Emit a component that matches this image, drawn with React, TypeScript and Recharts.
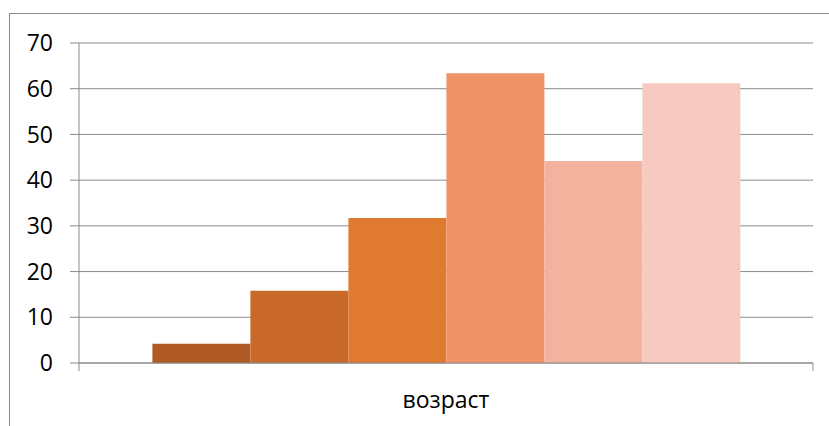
import { Bar, BarChart, CartesianGrid, XAxis, YAxis } from 'recharts'

const categories = ['возраст']
const seriesKeys = ['g1', 'g2', 'g3', 'g4', 'g5', 'g6']
const seriesValues = [4.2, 15.8, 31.7, 63.4, 44.2, 61.2]
const seriesColors = ['#AE5A22', '#C8692A', '#E07A31', '#F09368', '#F2B29D', '#F6CAC0']
const yTicks = [0, 10, 20, 30, 40, 50, 60, 70]

const GRID = '#8A8A8A'
const FONT = '"Open Sans", "Liberation Sans", sans-serif'

const data = categories.map((name) => {
  const row: Record<string, string | number> = { name }
  seriesKeys.forEach((k, i) => {
    row[k] = seriesValues[i]
  })
  return row
})

/** Category label plus the small tick marks Excel draws at the band edges. */
function CategoryTick(props: any) {
  const { x, y, payload } = props
  const half = payload?.offset ?? 0
  return (
    <g>
      <line x1={x - half} y1={y - 8} x2={x - half} y2={y} stroke={GRID} />
      <line x1={x + half} y1={y - 8} x2={x + half} y2={y} stroke={GRID} />
      <text x={x} y={y + 37} textAnchor="middle" fontSize={23} fontFamily={FONT} fill="#000">
        {payload.value}
      </text>
    </g>
  )
}

export default function App() {
  return (
    <div style={{ position: 'absolute', left: 0, top: 0, width: 829, height: 426, background: '#fff' }}>
      <div
        style={{
          position: 'absolute',
          left: 9,
          top: 13,
          width: 830,
          height: 420,
          borderLeft: `1px solid ${GRID}`,
          borderTop: `1px solid ${GRID}`,
        }}
      />
      <div style={{ position: 'absolute', left: 0, top: 0 }}>
        <BarChart
          width={829}
          height={426}
          data={data}
          margin={{ top: 43, right: 16, bottom: 0, left: 19 }}
          barGap={0}
          barCategoryGap="10%"
        >
          <CartesianGrid vertical={false} stroke={GRID} strokeWidth={1} />
          <XAxis
            dataKey="name"
            height={63}
            tickLine={false}
            axisLine={{ stroke: GRID }}
            tick={<CategoryTick />}
            interval={0}
          />
          <YAxis
            width={60}
            domain={[0, 70]}
            ticks={yTicks}
            interval={0}
            tickSize={9}
            tickMargin={17}
            tickLine={{ stroke: GRID }}
            axisLine={{ stroke: GRID }}
            tick={{ fontSize: 23, fontFamily: FONT, fill: '#000' }}
          />
          {seriesKeys.map((k, i) => (
            <Bar key={k} dataKey={k} fill={seriesColors[i]} isAnimationActive={false} />
          ))}
        </BarChart>
      </div>
    </div>
  )
}
